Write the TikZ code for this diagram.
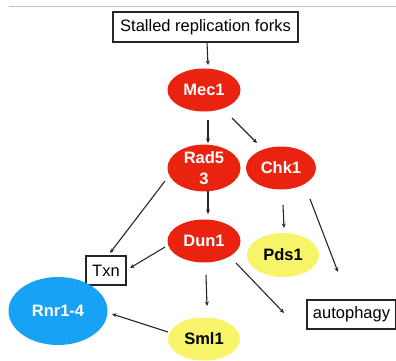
\documentclass[tikz,border=0pt]{standalone}
\usepackage{fontspec}
\setmainfont{Liberation Sans}
\usetikzlibrary{arrows.meta,shapes.geometric}
\definecolor{kinase}{HTML}{EA2210}
\definecolor{target}{HTML}{F7F46A}
\definecolor{rnr}{HTML}{18A2F5}
\definecolor{edge}{HTML}{262626}
\tikzset{
  box/.style={draw=black!85, line width=1.2pt, fill=white, inner sep=0pt, font=\fontsize{16.5}{18}\selectfont},
  blob/.style={ellipse, draw=none, inner sep=0pt, font=\bfseries\fontsize{16.5}{20}\selectfont, align=center},
  red/.style={blob, fill=kinase, text=white, minimum width=73pt, minimum height=43pt},
  yel/.style={blob, fill=target, text=black, minimum width=72pt, minimum height=44pt},
  link/.style={draw=edge, line width=1.1pt, -{Stealth[length=4.5pt,width=4pt]}},
}
\begin{document}
\begin{tikzpicture}[x=1pt,y=-1pt]
\useasboundingbox (0,0) rectangle (396,361);
\draw[black!25, line width=0.8pt] (9,6) -- (396,6);
% nodes
\node[box, minimum width=185pt, minimum height=30pt] (srf) at (205.5,27) {Stalled replication forks};
\node[red] (mec1) at (204,90) {Mec1};
\node[red] (rad53) at (204,168) {Rad5\\[1pt]3};
\node[red, minimum width=70pt] (chk1) at (281,168) {Chk1};
\node[red] (dun1) at (204,241) {Dun1};
\node[yel] (pds1) at (283,255) {Pds1};
\node[box, minimum width=40pt, minimum height=29pt] (txn) at (106,270.5) {Txn};
\node[box, minimum width=89pt, minimum height=29pt] (auto) at (351.5,314.5) {autophagy};
\node[blob, fill=rnr, text=white, minimum width=99pt, minimum height=68pt] (rnr) at (58,311) {Rnr1-4};
\node[yel, minimum height=43pt] (sml1) at (204,339) {Sml1};
% free arrow ends, placed in the gaps between the nodes
\coordinate (a0) at (207,42);  \coordinate (a1) at (208,65);
\coordinate (b0) at (208,120); \coordinate (b1) at (208,143);
\coordinate (c0) at (232,118); \coordinate (c1) at (257,143);
\coordinate (d0) at (165,181); \coordinate (d1) at (110,253);
\coordinate (e0) at (208,191); \coordinate (e1) at (208,214);
\coordinate (f0) at (283,205); \coordinate (f1) at (284,228);
\coordinate (g0) at (310,199); \coordinate (g1) at (338,272);
\coordinate (h0) at (165,247); \coordinate (h1) at (130,268);
\coordinate (i0) at (206,275); \coordinate (i1) at (207,306);
\coordinate (j0) at (236,263); \coordinate (j1) at (284,313);
\coordinate (k0) at (168,332); \coordinate (k1) at (112,314);
% arrows
\draw[link] (a0) -- (a1);  % forks -> Mec1
\draw[link] (b0) -- (b1);  % Mec1 -> Rad53
\draw[link] (c0) -- (c1);  % Mec1 -> Chk1
\draw[link] (d0) -- (d1);  % Rad53 -> Txn
\draw[link] (e0) -- (e1);  % Rad53 -> Dun1
\draw[link] (f0) -- (f1);  % Chk1 -> Pds1
\draw[link] (g0) -- (g1);  % Chk1 -> autophagy
\draw[link] (h0) -- (h1);  % Dun1 -> Txn
\draw[link] (i0) -- (i1);  % Dun1 -> Sml1
\draw[link] (j0) -- (j1);  % Dun1 -> autophagy
\draw[link] (k0) -- (k1);  % Sml1 -> Rnr1-4
\end{tikzpicture}
\end{document}
